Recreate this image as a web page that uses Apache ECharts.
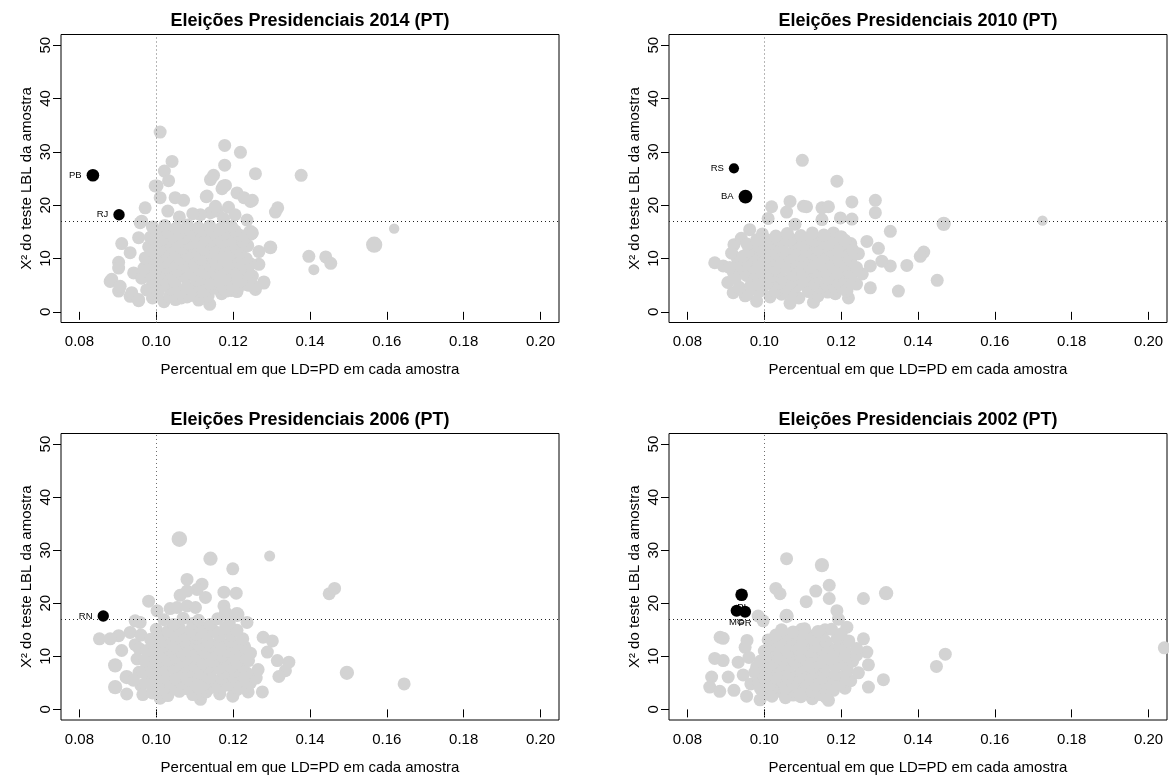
<!DOCTYPE html>
<html>
<head>
<meta charset="utf-8">
<script src="https://cdn.jsdelivr.net/npm/echarts@6/dist/echarts.min.js"></script>
<style>
  html, body { margin: 0; padding: 0; background: #fff; }
  #grafico { width: 1169px; height: 776px; }
</style>
</head>
<body>
<div id="grafico"></div>
<script>
// Marcas do eixo e linhas de referência
const ticksX = [0.08, 0.10, 0.12, 0.14, 0.16, 0.18, 0.20];
const ticksY = [0, 10, 20, 30, 40, 50];
const limiteX = 0.10;          // proporção esperada LD=PD
const limiteQui = 16.92;       // valor crítico do qui-quadrado (gl = 9, 5%)

const titulos = [
  'Eleições Presidenciais 2014 (PT)',
  'Eleições Presidenciais 2010 (PT)',
  'Eleições Presidenciais 2006 (PT)',
  'Eleições Presidenciais 2002 (PT)'
];

// Amostras: [percentual LD=PD, X² LBL, peso relativo]
const amostras2014 = [
  [0.1010,33.7],[0.1178,31.2],[0.1219,29.9],[0.1041,28.2],[0.1178,27.5],[0.1258,25.9],[0.1377,25.6],
  [0.1021,26.4],[0.1032,24.6],[0.1002,23.6],[0.1141,24.8],[0.1149,25.6],[0.1171,23.1],[0.1180,23.7],
  [0.1210,22.3],[0.1228,21.4],[0.1250,20.9],[0.1130,21.6],[0.1071,20.9],[0.1049,21.4],[0.1010,21.4],
  [0.1188,19.6],[0.1310,18.7],[0.1316,19.5],[0.0971,19.5],[0.1141,18.6],[0.1159,18.9],[0.1115,18.2],
  [0.1236,17.2],[0.1245,14.8,1.2],[0.1619,15.6,0.8],[0.1567,12.6,1.25],[0.1297,12.1,1.05],[0.1267,11.3],
  [0.1397,10.4],[0.1441,10.3],[0.1454,9.1],[0.1410,7.9,0.85],[0.0910,12.8],[0.0932,11.1],[0.0902,9.3],
  [0.0902,8.2],[0.0941,7.3],[0.0880,5.7],[0.0902,3.9],[0.0932,2.9],[0.0954,2.1],[0.1139,1.4],[0.1280,5.6],
  [0.1258,4.2],[0.1236,5.1],[0.0958,16.7],[0.0954,13.9],[0.0962,17.0],[0.1132,21.7],[0.1154,19.8],
  [0.1175,23.6],[0.1245,20.7],[0.1250,14.8],[0.1267,8.9],[0.1236,8.2],[0.1280,5.4],[0.1254,4.8],
  [0.0884,6.1],[0.0906,4.8],[0.0936,3.6],[0.0954,2.3],[0.0997,23.6],
  [0.1060,17.8],[0.1095,18.4],[0.1030,18.9],[0.1175,17.5],[0.1205,18.2],
  [0.0990,2.6],[0.1020,1.9],[0.1050,2.3],[0.1080,2.8],[0.1110,2.2],[0.1170,3.4],[0.1210,3.8],
  [0.1000,3.3],[0.1035,2.9],[0.1065,2.6],[0.1095,3.1],[0.1135,3.0],[0.1195,4.0],
  [0.0975,4.1],[0.1005,3.7],[0.1035,4.3],[0.1062,3.5],[0.1093,4.0],[0.1121,3.8],[0.1150,4.4],[0.1182,3.9],[0.1213,4.6],[0.1240,5.0],
  [0.0990,5.0],[0.1020,5.2],[0.1050,4.9],[0.1080,4.7],[0.1110,5.1],[0.1140,5.3],[0.1170,4.8],[0.1200,5.0],
  [0.0962,6.3],[0.0991,5.8],[0.1020,6.1],[0.1048,5.7],[0.1077,6.4],[0.1105,5.9],[0.1134,6.2],[0.1163,5.6],[0.1191,6.3],[0.1222,6.0],[0.1250,6.7],
  [0.0985,7.0],[0.1012,7.3],[0.1040,7.1],[0.1070,6.8],[0.1100,6.9],[0.1128,7.2],[0.1155,7.2],[0.1185,6.9],[0.1210,7.0],[0.1240,7.4],
  [0.0968,8.2],[0.0998,7.9],[0.1027,8.4],[0.1055,7.8],[0.1084,8.3],[0.1112,8.0],[0.1141,8.5],[0.1170,7.7],[0.1199,8.1],[0.1228,8.6],
  [0.0985,9.0],[0.1015,9.2],[0.1045,8.9],[0.1072,8.8],[0.1100,9.1],[0.1130,9.3],[0.1160,9.0],[0.1188,8.9],[0.1215,9.2],[0.1245,9.0],
  [0.0971,10.1],[0.1001,9.7],[0.1031,10.3],[0.1060,9.9],[0.1089,10.4],[0.1118,9.8],[0.1147,10.2],[0.1176,9.6],[0.1205,10.5],[0.1234,10.0],
  [0.0995,11.0],[0.1022,11.3],[0.1050,11.1],[0.1080,10.8],[0.1110,10.9],[0.1138,11.2],[0.1165,11.0],[0.1193,10.8],[0.1220,11.2],
  [0.0980,12.2],[0.1009,11.8],[0.1038,12.4],[0.1066,11.9],[0.1095,12.3],[0.1124,11.7],[0.1153,12.1],[0.1182,12.5],[0.1210,11.9],[0.1238,12.4],
  [0.1000,13.0],[0.1028,13.2],[0.1055,13.1],[0.1085,12.8],[0.1115,12.9],[0.1143,13.3],[0.1170,13.0],[0.1198,12.7],[0.1225,13.2],
  [0.0985,14.0],[0.1014,13.6],[0.1043,14.2],[0.1072,13.8],[0.1101,14.3],[0.1130,13.9],[0.1159,14.1],[0.1188,13.5],[0.1216,14.4],
  [0.1000,15.0],[0.1030,15.0],[0.1060,14.8],[0.1090,15.1],[0.1120,15.3],[0.1150,14.9],[0.1178,14.7],[0.1205,15.2],
  [0.0990,15.9],[0.1022,16.2],[0.1052,15.7],[0.1081,16.3],[0.1110,15.8],[0.1139,16.1],[0.1167,15.6],[0.1196,16.0]
];

const amostras2010 = [
  [0.1099,28.4],[0.1189,24.5],[0.1228,20.6],[0.1289,20.9],[0.1289,18.6],[0.1467,16.5,1.1],[0.1724,17.1,0.8],
  [0.1328,15.1],[0.1297,11.9],[0.1415,11.2],[0.1406,10.4],[0.1371,8.7],[0.1450,5.9],[0.1349,3.9],
  [0.1328,8.6],[0.1306,9.5],[0.1276,8.6],[0.1267,13.2],[0.1276,4.5],[0.1219,2.6],[0.1128,1.8],[0.1067,1.6],
  [0.0980,2.0],[0.0919,3.6],[0.0871,9.2],[0.0893,8.6],[0.0921,12.6],[0.0962,15.4],[0.1010,17.5],[0.1019,19.7],
  [0.1067,20.7],[0.1058,18.7],[0.1102,19.8],[0.1110,19.7],[0.1150,19.5],[0.1167,19.7],[0.1150,17.3],
  [0.1198,17.6],[0.1228,17.4],[0.1080,16.4],[0.1180,14.8],
  [0.0905,5.5],[0.0920,7.3],[0.0930,10.0],[0.0915,11.0],[0.0940,13.8],[0.0950,3.0],
  [0.0955,3.2],[0.1015,2.8],[0.1045,3.3],[0.1090,2.6],[0.1140,3.0],[0.1185,3.4],
  [0.0985,3.7],[0.1030,3.9],[0.1070,3.6],[0.1115,3.8],[0.1165,3.7],[0.1215,3.9],
  [0.0935,4.6],[0.0965,4.9],[0.0995,4.3],[0.1025,4.7],[0.1055,4.4],[0.1085,4.8],[0.1115,4.2],[0.1145,4.6],[0.1175,4.9],[0.1205,4.4],[0.1240,5.2],
  [0.0980,5.6],[0.1010,5.5],[0.1040,5.4],[0.1070,5.6],[0.1100,5.7],[0.1130,5.4],[0.1160,5.3],[0.1190,5.7],[0.1220,5.8],
  [0.0925,6.4],[0.0955,6.8],[0.0985,6.2],[0.1015,6.6],[0.1045,6.3],[0.1075,6.9],[0.1105,6.4],[0.1135,6.7],[0.1165,6.2],[0.1195,6.8],[0.1225,6.5],[0.1255,7.1],
  [0.0950,7.6],[0.0980,7.5],[0.1010,7.4],[0.1040,7.6],[0.1070,7.7],[0.1100,7.4],[0.1130,7.5],[0.1160,7.6],[0.1190,7.3],[0.1220,7.5],
  [0.0910,8.3],[0.0940,8.7],[0.0970,8.4],[0.1000,8.8],[0.1030,8.2],[0.1060,8.6],[0.1090,8.9],[0.1120,8.3],[0.1150,8.7],[0.1180,8.4],[0.1210,8.8],[0.1240,8.3],
  [0.0955,9.5],[0.0985,9.6],[0.1015,9.6],[0.1045,9.4],[0.1075,9.5],[0.1105,9.7],[0.1135,9.4],[0.1165,9.5],[0.1195,9.6],[0.1225,9.6],
  [0.0945,10.4],[0.0975,10.8],[0.1005,10.3],[0.1035,10.7],[0.1065,10.2],[0.1095,10.6],[0.1125,10.9],[0.1155,10.3],[0.1185,10.7],[0.1215,10.4],[0.1245,10.9],
  [0.0960,11.4],[0.0990,11.5],[0.1020,11.6],[0.1050,11.4],[0.1080,11.5],[0.1110,11.6],[0.1140,11.7],[0.1170,11.5],[0.1200,11.4],[0.1230,11.6],
  [0.0955,12.7],[0.0985,12.3],[0.1015,12.8],[0.1045,12.4],[0.1075,12.9],[0.1105,12.5],[0.1135,12.2],[0.1165,12.6],[0.1195,12.3],[0.1225,12.8],
  [0.0980,13.5],[0.1010,13.4],[0.1040,13.4],[0.1070,13.6],[0.1100,13.6],[0.1130,13.3],[0.1155,13.5],[0.1180,13.7],[0.1210,13.4],
  [0.0995,14.6],[0.1030,14.2],[0.1060,14.7],[0.1095,14.3],[0.1125,14.8],[0.1155,14.4],[0.1200,14.1]
];

const amostras2006 = [
  [0.1060,32.1,1.2],[0.1141,28.4,1.1],[0.1295,28.9,0.85],[0.1199,26.5],[0.1080,24.5],[0.1119,23.6],
  [0.1106,22.6],[0.1128,21.1],[0.1062,21.5],[0.1080,22.3],[0.1176,22.1],[0.1208,21.9],[0.1450,21.8],
  [0.1464,22.8],[0.0980,20.4],[0.1002,18.6],[0.1036,19.0],[0.1054,19.2],[0.1080,19.5],[0.1102,19.2],
  [0.1176,19.5],[0.1180,18.3],[0.1210,17.9,1.15],[0.1236,16.4],[0.0958,16.4],[0.0945,16.7],[0.0932,14.5],
  [0.0902,13.9],[0.0880,13.3],[0.0852,13.3],[0.0910,11.1],[0.0893,8.3,1.1],[0.0923,6.1,1.1],[0.0893,4.2,1.1],
  [0.0923,2.9],[0.1278,13.6],[0.1302,12.9],[0.1289,10.8],[0.1315,9.2],[0.1345,8.9],[0.1336,7.3],
  [0.1319,6.2],[0.1496,6.9,1.1],[0.1645,4.8],[0.1276,3.3],[0.1239,3.3],[0.1199,2.5],[0.1115,1.9],[0.1010,2.1],
  [0.0950,9.5],[0.0945,12.2],[0.0955,7.0],[0.0960,4.5],[0.0940,5.5],[0.0955,11.5],[0.0960,14.0],[0.0965,2.8],
  [0.0990,3.1],[0.1030,2.6],[0.1060,3.4],[0.1095,2.8],[0.1130,3.3],[0.1165,2.9],[0.1210,3.7],
  [0.0990,4.1],[0.1020,4.0],[0.1050,3.9],[0.1080,3.9],[0.1110,4.0],[0.1140,4.1],[0.1170,4.2],[0.1200,4.2],[0.1230,4.1],
  [0.0975,5.2],[0.1005,4.7],[0.1035,5.3],[0.1065,4.9],[0.1095,5.4],[0.1125,4.8],[0.1155,5.1],[0.1185,4.6],[0.1215,5.3],[0.1245,5.0],
  [0.0990,6.0],[0.1020,6.1],[0.1050,5.9],[0.1080,5.8],[0.1110,6.1],[0.1140,6.0],[0.1170,5.8],[0.1200,6.2],[0.1230,6.0],[0.1260,5.9],
  [0.0965,7.1],[0.0995,6.8],[0.1025,7.3],[0.1055,6.7],[0.1085,7.2],[0.1115,6.9],[0.1145,7.4],[0.1175,6.8],[0.1205,7.2],[0.1235,6.9],[0.1265,7.5],
  [0.0985,8.0],[0.1015,8.0],[0.1045,7.9],[0.1075,8.1],[0.1105,8.2],[0.1135,7.9],[0.1165,7.9],[0.1195,8.0],[0.1225,8.1],
  [0.0970,9.2],[0.1000,8.8],[0.1030,9.3],[0.1060,8.9],[0.1090,9.4],[0.1120,8.7],[0.1150,9.1],[0.1180,9.5],[0.1210,8.8],[0.1240,9.2],
  [0.0990,10.0],[0.1020,10.1],[0.1050,9.9],[0.1080,9.8],[0.1110,10.1],[0.1140,10.0],[0.1170,10.0],[0.1200,10.2],[0.1230,9.9],
  [0.0975,11.1],[0.1005,10.7],[0.1035,11.3],[0.1065,10.9],[0.1095,11.2],[0.1125,10.8],[0.1155,11.4],[0.1185,10.9],[0.1215,11.2],[0.1245,10.6],
  [0.0995,12.0],[0.1020,12.0],[0.1050,11.9],[0.1080,12.1],[0.1110,12.1],[0.1140,11.9],[0.1170,12.0],[0.1200,12.0],[0.1230,11.8],
  [0.0985,13.2],[0.1015,12.8],[0.1045,13.3],[0.1075,12.9],[0.1105,13.4],[0.1135,12.7],[0.1165,13.1],[0.1195,12.8],[0.1225,13.3],
  [0.1015,14.0],[0.1045,14.0],[0.1075,13.9],[0.1105,14.1],[0.1135,14.1],[0.1165,13.9],[0.1195,14.0],
  [0.1000,15.1],[0.1030,14.7],[0.1060,15.3],[0.1090,14.9],[0.1120,15.2],[0.1150,14.8],[0.1180,15.4],[0.1210,14.9],
  [0.1045,16.0],[0.1095,16.2],[0.1140,16.0],[0.1190,16.3],
  [0.1020,16.9],[0.1070,17.2],[0.1110,16.8],[0.1160,17.1]
];

const amostras2002 = [
  [0.1058,28.4],[0.1150,27.2,1.1],[0.1030,22.8],[0.1041,21.8],[0.1134,22.3],[0.1169,23.4],[0.1169,20.9],
  [0.1109,20.3],[0.1258,20.9],[0.1317,21.9,1.1],[0.1189,18.6],[0.1193,17.0],[0.1058,17.6,1.1],[0.0984,17.6],
  [0.0997,16.7],[0.1097,15.1],[0.1215,15.5],[0.1158,15.0],[0.0893,13.4],[0.0885,13.6],[0.0950,11.7],
  [0.0871,9.6],[0.0893,9.2],[0.0932,8.9],[0.0863,6.1],[0.0906,6.1],[0.0858,4.2],[0.0884,3.4],[0.0921,3.6],
  [0.0954,2.5],[0.0989,1.8],[0.1167,1.7],[0.1125,2.0],[0.1258,13.3],[0.1267,10.8],[0.1271,8.4],[0.1271,4.2],
  [0.1310,5.6],[0.1471,10.4],[0.1448,8.1],[0.2041,11.6],[0.2050,7.6],
  [0.0945,6.5],[0.0960,9.8],[0.0965,4.8],[0.0955,13.0],
  [0.1005,2.9],[0.1040,3.4],[0.1075,2.7],[0.1110,3.2],[0.1145,2.8],[0.1180,3.6],
  [0.1020,2.5],[0.1055,2.2],[0.1095,2.4],[0.1160,2.3],
  [0.0990,3.9],[0.1020,4.0],[0.1055,4.0],[0.1090,3.9],[0.1120,4.1],[0.1150,4.1],[0.1180,4.0],[0.1210,4.0],
  [0.0985,5.1],[0.1015,4.7],[0.1045,5.3],[0.1075,4.8],[0.1105,5.2],[0.1135,4.6],[0.1165,5.0],[0.1195,4.7],[0.1225,5.4],
  [0.1000,6.0],[0.1030,6.0],[0.1060,5.9],[0.1090,6.1],[0.1120,6.1],[0.1150,5.9],[0.1180,5.9],[0.1210,6.0],
  [0.0975,7.0],[0.1005,6.7],[0.1035,7.2],[0.1065,6.8],[0.1095,7.3],[0.1125,6.9],[0.1155,7.1],[0.1185,6.6],[0.1215,7.2],[0.1245,6.9],
  [0.0980,8.0],[0.1010,8.0],[0.1035,8.1],[0.1065,8.1],[0.1095,7.9],[0.1125,7.9],[0.1155,8.1],[0.1185,8.0],[0.1215,7.9],
  [0.0990,9.1],[0.1020,8.7],[0.1050,9.3],[0.1080,8.9],[0.1110,9.2],[0.1140,8.8],[0.1170,9.4],[0.1200,8.9],[0.1230,9.1],
  [0.1005,10.0],[0.1035,10.0],[0.1065,10.0],[0.1095,10.1],[0.1125,10.1],[0.1155,9.9],[0.1185,9.9],[0.1215,10.0],[0.1240,10.2],
  [0.1000,11.0],[0.1030,11.4],[0.1060,10.8],[0.1090,11.3],[0.1120,10.9],[0.1150,11.2],[0.1180,10.7],[0.1210,11.1],[0.1240,11.5],
  [0.1015,12.0],[0.1045,12.0],[0.1075,12.1],[0.1105,12.1],[0.1135,11.9],[0.1165,11.9],[0.1195,12.0],
  [0.1010,13.1],[0.1040,12.7],[0.1070,13.3],[0.1100,12.9],[0.1130,13.2],[0.1160,12.8],[0.1190,13.4],[0.1220,12.9],
  [0.1030,14.0],[0.1060,14.0],[0.1090,14.1],[0.1120,13.9],[0.1150,13.9],[0.1200,14.2],
  [0.1045,15.0],[0.1075,14.6],[0.1105,15.2],[0.1140,14.7],[0.1175,15.1]
];

// Estados destacados: [UF, percentual, X², peso relativo]
const ufs2014 = [['PB', 0.0835, 25.6, 1.05], ['RJ', 0.0903, 18.2, 0.95]];
const ufs2010 = [['RS', 0.0921, 26.9, 0.85], ['BA', 0.0951, 21.6, 1.15]];
const ufs2006 = [['RN', 0.0862, 17.6, 0.95]];
const ufs2002 = [['PI', 0.0941, 21.6, 1.05], ['MG', 0.0928, 18.6, 1.0], ['PR', 0.0950, 18.4, 1.0]];

const FONTE = '"Liberation Sans", Arial, Helvetica, sans-serif';

const paineis = [
  { titulo: titulos[0], pontos: amostras2014, ufs: ufs2014, left: 61,  top: 34.5,  rotulo: 'left' },
  { titulo: titulos[1], pontos: amostras2010, ufs: ufs2010, left: 669, top: 34.5,  rotulo: 'left' },
  { titulo: titulos[2], pontos: amostras2006, ufs: ufs2006, left: 61,  top: 433.5, rotulo: 'left' },
  { titulo: titulos[3], pontos: amostras2002, ufs: ufs2002, left: 669, top: 433.5, rotulo: 'bottom' }
];
const LARG = 498, ALT = 288;

const grid = [], xAxis = [], yAxis = [], series = [], graphic = [];

paineis.forEach((p, i) => {
  grid.push({
    left: p.left, top: p.top, width: LARG, height: ALT,
    show: true, borderColor: '#000', borderWidth: 1, backgroundColor: 'transparent'
  });
  xAxis.push({
    type: 'value', gridIndex: i, min: 0.0752, max: 0.2048,
    name: 'Percentual em que LD=PD em cada amostra',
    nameLocation: 'middle', nameGap: 40,
    nameTextStyle: { fontFamily: FONTE, fontSize: 15, color: '#000' },
    axisLine: { show: false },
    axisTick: { show: true, customValues: ticksX, length: 8, lineStyle: { color: '#000' } },
    axisLabel: { customValues: ticksX, formatter: v => v.toFixed(2), margin: 12,
                 fontFamily: FONTE, fontSize: 15, color: '#000' },
    splitLine: { show: false }
  });
  yAxis.push({
    type: 'value', gridIndex: i, min: -2, max: 52,
    name: 'X² do teste LBL da amostra',
    nameLocation: 'middle', nameGap: 27, nameRotate: 90,
    nameTextStyle: { fontFamily: FONTE, fontSize: 15, color: '#000' },
    axisLine: { show: false },
    axisTick: { show: true, customValues: ticksY, length: 8, lineStyle: { color: '#000' } },
    axisLabel: { customValues: ticksY, rotate: 90, margin: 8,
                 fontFamily: FONTE, fontSize: 15, color: '#000' },
    splitLine: { show: false }
  });
  // amostras em cinza
  series.push({
    type: 'scatter', xAxisIndex: i, yAxisIndex: i,
    data: p.pontos,
    symbol: 'circle',
    symbolSize: d => 13 * (d[2] || 1),
    itemStyle: { color: '#d3d3d3', opacity: 1 },
    emphasis: { disabled: true },
    silent: true, z: 2
  });
  // linhas de referência pontilhadas, por cima das amostras
  series.push({
    type: 'scatter', xAxisIndex: i, yAxisIndex: i,
    data: [], silent: true, z: 5,
    markLine: {
      silent: true, symbol: 'none', animation: false, z: 5,
      label: { show: false },
      emphasis: { disabled: true },
      data: [
        { xAxis: limiteX, lineStyle: { color: '#6e6e6e', type: [1, 3], width: 1 } },
        { yAxis: limiteQui, lineStyle: { color: '#222', type: [1, 3], width: 1 } }
      ]
    }
  });
  // estados destacados
  series.push({
    type: 'scatter', xAxisIndex: i, yAxisIndex: i,
    data: p.ufs.map(u => ({ name: u[0], value: [u[1], u[2]], symbolSize: 12 * u[3] })),
    symbol: 'circle',
    itemStyle: { color: '#000', opacity: 1 },
    label: { show: true, formatter: '{b}', position: p.rotulo, distance: p.rotulo === 'left' ? 5 : 1,
             fontFamily: FONTE, fontSize: 9.5, color: '#000' },
    emphasis: { disabled: true },
    silent: true, z: 10
  });
  graphic.push({
    type: 'text', x: p.left + LARG / 2, y: p.top - 13.5,
    style: { text: p.titulo, textAlign: 'center', textVerticalAlign: 'middle',
             font: 'bold 18px ' + FONTE, fill: '#000' }
  });
});

const grafico = echarts.init(document.getElementById('grafico'), null, { renderer: 'canvas' });
grafico.setOption({
  animation: false,
  backgroundColor: '#fff',
  grid, xAxis, yAxis, series, graphic
});
</script>
</body>
</html>
